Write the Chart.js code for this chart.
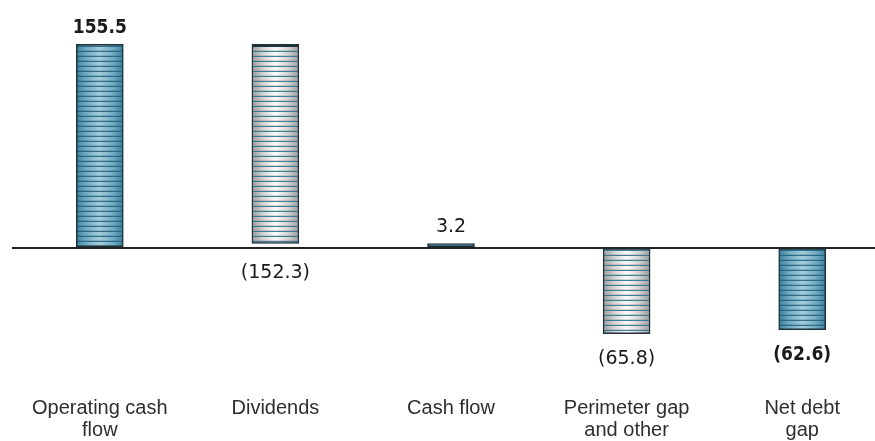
<!DOCTYPE html>
<html>
<head>
<meta charset="utf-8">
<script src="https://cdn.jsdelivr.net/npm/chart.js@4/dist/chart.umd.min.js"></script>
<style>
  html, body { margin: 0; padding: 0; background: #ffffff; overflow: hidden; }
  #wrap { width: 875px; height: 441px; overflow: hidden; position: relative; }
  canvas { display: block; }
</style>
</head>
<body>
<div id="wrap"><canvas id="chart" width="890" height="449"></canvas></div>
<script>
// Net debt bridge (EUR m)
const categories = [
  ['Operating cash', 'flow'],
  ['Dividends'],
  ['Cash flow'],
  ['Perimeter gap', 'and other'],
  ['Net debt', 'gap']
];
// Movement of each step and the level each bar starts from
const changes = [155.5, -152.3, 3.2, -65.8, -62.6];
const bases   = [0, 155.5, 0, 0, 0];

// ---- styling ----
const fillKind  = ['teal', 'grey', 'solid', 'grey', 'teal'];
const boldLabel = [true, false, false, false, true];
const BAR_W = 47;
const STRIPE = 5;

const ranges = changes.map((c, i) => [bases[i], +(bases[i] + c).toFixed(1)]);

function fmt(v) {
  const s = Math.abs(v).toFixed(1);
  return v < 0 ? '(' + s + ')' : s;
}

const tileCache = {};
function stripeTile(kind) {
  if (tileCache[kind]) return tileCache[kind];
  const c = document.createElement('canvas');
  c.width = BAR_W; c.height = STRIPE;
  const g = c.getContext('2d');
  const grad = g.createLinearGradient(0, 0, BAR_W, 0);
  if (kind === 'teal') {
    grad.addColorStop(0, '#3d7f99');
    grad.addColorStop(0.2, '#6fa9bf');
    grad.addColorStop(0.5, '#a6cddb');
    grad.addColorStop(0.8, '#6fa9bf');
    grad.addColorStop(1, '#3d7f99');
  } else {
    grad.addColorStop(0, '#9c9c9c');
    grad.addColorStop(0.25, '#d6d6d6');
    grad.addColorStop(0.5, '#fbfbfb');
    grad.addColorStop(0.75, '#d6d6d6');
    grad.addColorStop(1, '#9c9c9c');
  }
  g.fillStyle = grad;
  g.fillRect(0, 0, BAR_W, STRIPE);
  g.fillStyle = kind === 'teal' ? 'rgba(30,95,125,0.85)' : 'rgba(45,115,145,0.9)';
  g.fillRect(0, 0, BAR_W, 1);
  g.fillStyle = kind === 'teal' ? 'rgba(40,100,128,0.25)' : 'rgba(120,120,120,0.25)';
  g.fillRect(0, STRIPE - 1, BAR_W, 1);
  tileCache[kind] = c;
  return c;
}

function barFill(ctx) {
  const i = ctx.dataIndex;
  const kind = fillKind[i];
  if (kind === 'solid') return '#1c5c78';
  const chart = ctx.chart;
  const xs = chart.scales && chart.scales.x;
  const ys = chart.scales && chart.scales.y;
  if (!xs || !ys || !chart.chartArea) return kind === 'teal' ? '#7fb4c7' : '#dcdcdc';
  const x0 = Math.round(xs.getPixelForValue(i) - BAR_W / 2);
  const top = Math.round(ys.getPixelForValue(Math.max(...ranges[i])));
  const pat = chart.ctx.createPattern(stripeTile(kind), 'repeat');
  pat.setTransform(new DOMMatrix().translate(x0, top + 2));
  return pat;
}

const valueLabels = {
  id: 'valueLabels',
  afterDatasetsDraw(chart) {
    const c = chart.ctx;
    const meta = chart.getDatasetMeta(0);
    const zeroPx = chart.scales.y.getPixelForValue(0);
    c.save();
    c.textAlign = 'center';
    c.fillStyle = '#1a1a1a';
    meta.data.forEach((el, i) => {
      const top = Math.min(el.y, el.base);
      const bottom = Math.max(el.y, el.base);
      const v = changes[i];
      c.font = boldLabel[i]
        ? 'bold 19px "DejaVu Sans Condensed", "DejaVu Sans", sans-serif'
        : '19px "DejaVu Sans", sans-serif';
      if (v >= 0) {
        c.textBaseline = 'alphabetic';
        c.fillText(fmt(v), el.x, top - 11);
      } else {
        c.textBaseline = 'top';
        c.fillText(fmt(v), el.x, Math.max(bottom, zeroPx) + 16);
      }
    });
    c.restore();
  }
};

new Chart(document.getElementById('chart'), {
  type: 'bar',
  data: {
    labels: categories,
    datasets: [{
      data: ranges,
      backgroundColor: barFill,
      borderColor: '#1f323c',
      borderWidth: (ctx) => ctx.dataIndex === 1 ? { top: 3, left: 1.5, right: 1.5, bottom: 1.5 } : 1.5,
      borderSkipped: false,
      barThickness: BAR_W
    }]
  },
  options: {
    responsive: false,
    animation: false,
    devicePixelRatio: 1,
    layout: { padding: { left: 12, right: 0, top: 0, bottom: 0 } },
    plugins: {
      legend: { display: false },
      tooltip: { enabled: false }
    },
    scales: {
      x: {
        grid: { display: false },
        border: { display: false },
        ticks: {
          color: '#2e2e2e',
          font: { family: '"Liberation Sans", Arial, sans-serif', size: 20, lineHeight: 1.1 },
          maxRotation: 0,
          autoSkip: false,
          padding: 8
        }
      },
      y: {
        min: -101.9,
        max: 189.3,
        afterBuildTicks(scale) { scale.ticks = [{ value: 0 }]; },
        ticks: { display: false },
        grid: {
          color: '#222222',
          lineWidth: 2,
          drawTicks: false
        },
        border: { display: false }
      }
    }
  },
  plugins: [valueLabels]
});
</script>
</body>
</html>
